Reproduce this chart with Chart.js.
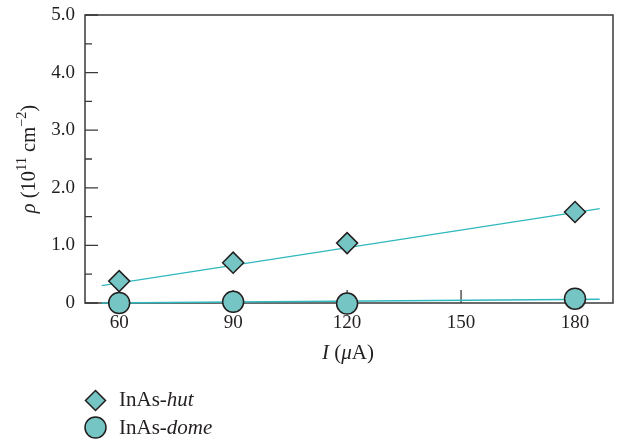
<!DOCTYPE html>
<html>
<head>
<meta charset="utf-8">
<script src="https://cdn.jsdelivr.net/npm/chart.js@4"></script>
<style>
html,body{margin:0;padding:0;background:#fff;}
#wrap{width:620px;height:443px;position:relative;}
</style>
</head>
<body>
<div id="wrap"><canvas id="c" width="620" height="443"></canvas></div>
<script>
// ---- data ----
const currents = [60, 90, 120, 180];          // I (µA)
const hutDensity = [0.38, 0.70, 1.04, 1.58];  // InAs-hut ρ (10^11 cm^-2)
const domeDensity = [0.00, 0.02, -0.01, 0.075]; // InAs-dome ρ
const fitCurrents = [55.4, 186.5];            // fit line end points (I)
const hutFit = [0.30, 1.64];
const domeFit = [0.00, 0.064];
const xTickValues = [60, 90, 120, 150, 180];
const yTickValues = [0, 1, 2, 3, 4, 5];
const seriesNames = ['InAs-', 'InAs-'];
const seriesItalic = ['hut', 'dome'];

const FONT = '"Liberation Serif", "DejaVu Serif", "Times New Roman", serif';
const TEXT = '#231f20';
const FILL = '#76c5c5';
const EDGE = '#231f20';
const LINE = '#2fb8bd';
const AXIS = '#3a3a3a';

const pts = (xs, ys) => xs.map((x, i) => ({x, y: ys[i]}));

function richWidth(ctx, parts, size) {
  let w = 0;
  for (const p of parts) {
    const s = p.sup ? size * 0.7 : size;
    ctx.font = (p.it ? 'italic ' : '') + s + 'px ' + FONT;
    w += ctx.measureText(p.t).width;
  }
  return w;
}
function drawRich(ctx, parts, x, y, size, align) {
  const w = richWidth(ctx, parts, size);
  let cx = align === 'center' ? x - w / 2 : x;
  ctx.textBaseline = 'alphabetic';
  ctx.textAlign = 'left';
  ctx.fillStyle = TEXT;
  for (const p of parts) {
    const s = p.sup ? size * 0.7 : size;
    ctx.font = (p.it ? 'italic ' : '') + s + 'px ' + FONT;
    ctx.fillText(p.t, cx, p.sup ? y - size * 0.42 : y);
    cx += ctx.measureText(p.t).width;
  }
}
function diamond(ctx, x, y, r) {
  ctx.beginPath();
  ctx.moveTo(x, y - r); ctx.lineTo(x + r, y); ctx.lineTo(x, y + r); ctx.lineTo(x - r, y);
  ctx.closePath();
  ctx.fillStyle = FILL; ctx.fill();
  ctx.lineWidth = 1.5; ctx.strokeStyle = EDGE; ctx.stroke();
}
function circle(ctx, x, y, r) {
  ctx.beginPath(); ctx.arc(x, y, r, 0, Math.PI * 2);
  ctx.fillStyle = FILL; ctx.fill();
  ctx.lineWidth = 1.5; ctx.strokeStyle = EDGE; ctx.stroke();
}
function zeroPad(s) { s.paddingTop = 0; s.paddingBottom = 0; s.paddingLeft = 0; s.paddingRight = 0; }

const framePlugin = {
  id: 'frame',
  beforeDatasetsDraw(chart) {
    const {ctx, chartArea: a, scales: {x, y}} = chart;
    ctx.save();
    ctx.strokeStyle = AXIS;
    ctx.lineWidth = 1.5;
    ctx.strokeRect(a.left, a.top, a.right - a.left, a.bottom - a.top);
    ctx.lineWidth = 1.3;
    ctx.beginPath();
    for (const v of yTickValues) {
      const py = y.getPixelForValue(v);
      ctx.moveTo(a.left, py); ctx.lineTo(a.left + 13, py);
    }
    for (let i = 0; i < yTickValues.length - 1; i++) {
      const py = y.getPixelForValue((yTickValues[i] + yTickValues[i + 1]) / 2);
      ctx.moveTo(a.left, py); ctx.lineTo(a.left + 7, py);
    }
    for (const v of xTickValues) {
      const px = x.getPixelForValue(v);
      ctx.moveTo(px, a.bottom); ctx.lineTo(px, a.bottom - 13);
    }
    ctx.stroke();
    ctx.restore();
  },
  afterDraw(chart) {
    const {ctx, chartArea: a} = chart;
    ctx.save();
    // x title
    drawRich(ctx, [{t: 'I', it: true}, {t: ' ('}, {t: 'μ', it: true}, {t: 'A)'}],
      (a.left + a.right) / 2 - 1, 359, 21, 'center');
    // y title
    ctx.translate(35, (a.top + a.bottom) / 2);
    ctx.rotate(-Math.PI / 2);
    drawRich(ctx, [{t: 'ρ', it: true}, {t: ' (10'}, {t: '11', sup: true}, {t: ' cm'},
      {t: '−2', sup: true}, {t: ')'}], 0, 0, 20.5, 'center');
    ctx.restore();
    // legend
    ctx.save();
    diamond(ctx, 95.5, 400.5, 10);
    circle(ctx, 95.5, 427.5, 10.5);
    drawRich(ctx, [{t: seriesNames[0]}, {t: seriesItalic[0], it: true}], 119, 405.5, 21, 'left');
    drawRich(ctx, [{t: seriesNames[1]}, {t: seriesItalic[1], it: true}], 119, 433.5, 21, 'left');
    ctx.restore();
  }
};

new Chart(document.getElementById('c'), {
  type: 'scatter',
  data: {
    datasets: [
      {label: 'InAs-hut', data: pts(currents, hutDensity), pointStyle: 'rectRot',
       pointRadius: 10.5, pointBackgroundColor: FILL, pointBorderColor: EDGE,
       pointBorderWidth: 1.5, showLine: false, clip: false},
      {label: 'InAs-dome', data: pts(currents, domeDensity), pointStyle: 'circle',
       pointRadius: 10.5, pointBackgroundColor: FILL, pointBorderColor: EDGE,
       pointBorderWidth: 1.5, showLine: false, clip: false},
      {label: 'hut fit', data: pts(fitCurrents, hutFit), showLine: true, pointRadius: 0,
       borderColor: LINE, borderWidth: 1.3, clip: false},
      {label: 'dome fit', data: pts(fitCurrents, domeFit), showLine: true, pointRadius: 0,
       borderColor: LINE, borderWidth: 1.6, clip: false}
    ]
  },
  options: {
    responsive: false,
    animation: false,
    events: [],
    layout: {autoPadding: false, padding: {left: 0, top: 15, right: 7, bottom: 0}},
    plugins: {legend: {display: false}, tooltip: {enabled: false}},
    scales: {
      x: {
        type: 'linear', min: 51, max: 190,
        afterBuildTicks: s => { s.ticks = xTickValues.map(v => ({value: v})); },
        afterFit: s => { s.height = 140; zeroPad(s); },
        grid: {display: false, drawTicks: false}, border: {display: false},
        ticks: {color: TEXT, font: {family: FONT, size: 19}, padding: 9, maxRotation: 0, autoSkip: false}
      },
      y: {
        min: 0, max: 5,
        afterBuildTicks: s => { s.ticks = yTickValues.map(v => ({value: v})); },
        afterFit: s => { s.width = 85; zeroPad(s); },
        grid: {display: false, drawTicks: false}, border: {display: false},
        ticks: {color: TEXT, font: {family: FONT, size: 19}, padding: 10,
          callback: v => v === 0 ? '0' : v.toFixed(1)}
      }
    }
  },
  plugins: [framePlugin]
});
</script>
</body>
</html>
